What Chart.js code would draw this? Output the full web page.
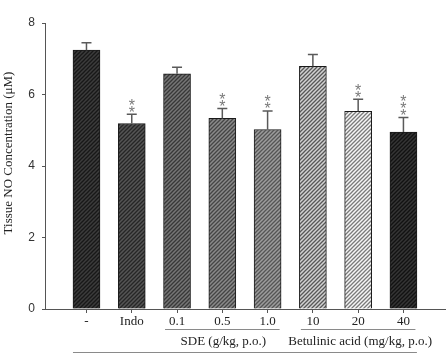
<!DOCTYPE html>
<html>
<head>
<meta charset="utf-8">
<script src="https://cdn.jsdelivr.net/npm/chart.js@4/dist/chart.umd.min.js"></script>
<style>
  html, body { margin: 0; padding: 0; background: #fff; }
  #c { display: block; }
</style>
</head>
<body>
<canvas id="c" width="446" height="357"></canvas>
<script>
// ---- data ----
const categories = ['-', 'Indo', '0.1', '0.5', '1.0', '10', '20', '40'];
const means = [7.24, 5.19, 6.58, 5.33, 5.02, 6.79, 5.53, 4.95];
const errors = [0.21, 0.26, 0.18, 0.28, 0.52, 0.33, 0.34, 0.41];
const stars = ['', '**', '', '**', '**', '', '**', '***'];
const yTicks = [0, 2, 4, 6, 8];
const groupLabels = ['SDE (g/kg, p.o.)', 'Betulinic acid (mg/kg, p.o.)'];
const groupStart = [2, 5];
const groupEnd = [4, 7];
const yTitle = 'Tissue NO Concentration (\u03BCM)';

// ---- styles ----
const hatchBg = ['#3c3c3c', '#555555', '#767676', '#8a8a8a', '#9c9c9c', '#d2d2d2', '#f6f6f6', '#353535'];
const hatchFg = ['#181818', '#262626', '#383838', '#454545', '#555555', '#585858', '#7a7a7a', '#121212'];

function makeHatch(bg, fg) {
  const s = 4;
  const cv = document.createElement('canvas');
  cv.width = s; cv.height = s;
  const g = cv.getContext('2d');
  g.fillStyle = bg; g.fillRect(0, 0, s, s);
  g.strokeStyle = fg; g.lineWidth = 1.3;
  g.beginPath();
  g.moveTo(0, s); g.lineTo(s, 0);
  g.moveTo(-1, 1); g.lineTo(1, -1);
  g.moveTo(s - 1, s + 1); g.lineTo(s + 1, s - 1);
  g.stroke();
  return g.createPattern(cv, 'repeat');
}
const patterns = hatchBg.map((b, i) => makeHatch(b, hatchFg[i]));

const extras = {
  id: 'extras',
  afterDatasetsDraw(chart) {
    const ctx = chart.ctx;
    const xs = chart.scales.x, ys = chart.scales.y;
    ctx.save();
    ctx.strokeStyle = '#5a5a5a';
    ctx.lineWidth = 1.5;
    means.forEach((m, i) => {
      const x = xs.getPixelForValue(i);
      const yb = ys.getPixelForValue(m);
      const yt = ys.getPixelForValue(m + errors[i]);
      ctx.beginPath();
      ctx.moveTo(x, yb); ctx.lineTo(x, yt);
      ctx.moveTo(x - 5, yt); ctx.lineTo(x + 5, yt);
      ctx.stroke();
      const n = stars[i].length;
      ctx.fillStyle = '#7a7a7a';
      ctx.font = '16px "Liberation Sans", Arial, sans-serif';
      ctx.textAlign = 'center';
      ctx.textBaseline = 'alphabetic';
      for (let k = 0; k < n; k++) {
        const cy = yt - 6 - k * 7;
        ctx.fillText('*', x, cy + 9.5);
      }
    });
    ctx.restore();
  },
  afterDraw(chart) {
    const ctx = chart.ctx;
    const xs = chart.scales.x;
    ctx.save();
    ctx.fillStyle = '#222';
    ctx.font = '13px "Liberation Serif", "Times New Roman", serif';
    ctx.textAlign = 'center';
    ctx.textBaseline = 'middle';
    ctx.translate(9, 153);
    ctx.rotate(-Math.PI / 2);
    ctx.fillText(yTitle, 0, 0);
    ctx.restore();

    ctx.save();
    ctx.strokeStyle = '#8a8a8a';
    ctx.lineWidth = 1;
    const lineY = 329.5;
    groupStart.forEach((s, g) => {
      const x1 = xs.getPixelForValue(s) - 12;
      const x2 = xs.getPixelForValue(groupEnd[g]) + 12;
      ctx.beginPath(); ctx.moveTo(x1, lineY); ctx.lineTo(x2, lineY); ctx.stroke();
      ctx.fillStyle = '#222';
      ctx.font = '13px "Liberation Serif", "Times New Roman", serif';
      ctx.textAlign = 'center';
      ctx.textBaseline = 'middle';
      const cx = (xs.getPixelForValue(s) + xs.getPixelForValue(groupEnd[g])) / 2;
      ctx.fillText(groupLabels[g], cx + (g === 1 ? 2 : 1), 342);
    });
    const bx1 = xs.getPixelForValue(0) - 13.5;
    const bx2 = xs.getPixelForValue(categories.length - 1) + 13.5;
    ctx.beginPath(); ctx.moveTo(bx1, 352.5); ctx.lineTo(bx2, 352.5); ctx.stroke();
    ctx.restore();
  }
};

new Chart(document.getElementById('c'), {
  type: 'bar',
  data: {
    datasets: [{
      data: means.map((m, i) => ({ x: i, y: m })),
      backgroundColor: patterns,
      borderColor: '#1a1a1a',
      borderWidth: 1,
      borderSkipped: 'bottom',
      barThickness: 27
    }]
  },
  options: {
    responsive: false,
    devicePixelRatio: 1,
    animation: false,
    layout: { padding: { top: 23, left: 0, right: 0, bottom: 0 } },
    plugins: { legend: { display: false }, tooltip: { enabled: false } },
    scales: {
      x: {
        type: 'linear',
        offset: false,
        min: -0.916,
        max: 7.94,
        afterBuildTicks(scale) { scale.ticks = categories.map((c, i) => ({ value: i })); },
        afterFit(scale) { scale.height = 48; },
        ticks: {
          autoSkip: false, maxRotation: 0, minRotation: 0,
          callback: (v) => categories[v],
          color: '#222',
          font: { family: '"Liberation Serif", "Times New Roman", serif', size: 13 },
          padding: 1
        },
        grid: { offset: false, drawOnChartArea: false, tickLength: 4, color: '#555' },
        border: { color: '#555', width: 1 }
      },
      y: {
        min: 0, max: 8,
        afterBuildTicks(scale) { scale.ticks = yTicks.map(v => ({ value: v })); },
        afterFit(scale) { scale.width = 45; },
        ticks: {
          color: '#333',
          font: { family: '"Liberation Sans", Arial, sans-serif', size: 12 },
          padding: 7
        },
        grid: { drawOnChartArea: false, tickLength: 3, color: '#555' },
        border: { color: '#555', width: 1 }
      }
    }
  },
  plugins: [extras]
});
</script>
</body>
</html>
